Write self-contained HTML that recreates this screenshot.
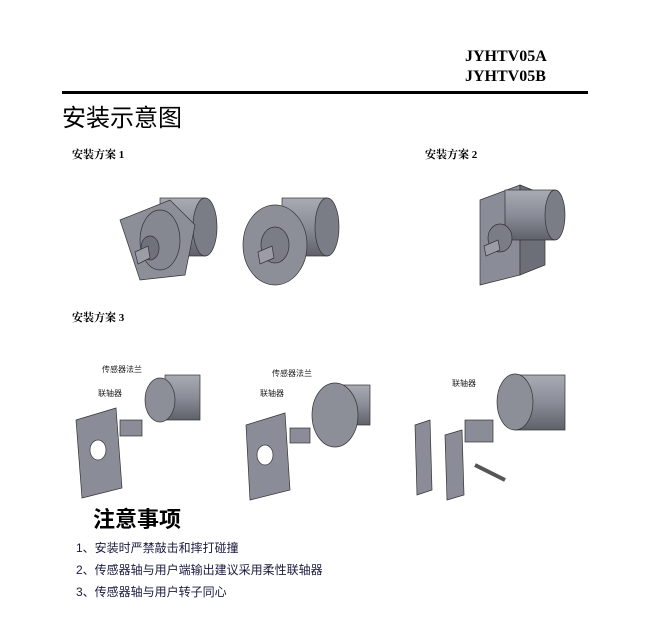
<!DOCTYPE html>
<html><head><meta charset="utf-8"><style>
body{margin:0;background:#fff;width:651px;height:626px;position:relative;overflow:hidden;font-family:"Liberation Serif","Noto Serif CJK SC",serif}
.a{position:absolute;white-space:nowrap}
</style></head><body>
<div class="a" style="left:465px;top:47px;font-size:16px;font-weight:bold;line-height:20px">JYHTV05A<br>JYHTV05B</div>
<div class="a" style="left:62px;top:91px;width:526px;height:3px;background:#000"></div>
<div class="a" style="left:62px;top:98px;font-size:24px;font-family:'Liberation Sans','Noto Sans CJK SC',sans-serif">安装示意图</div>
<div class="a" style="left:72px;top:146px;font-size:11px;font-weight:bold">安装方案 1</div>
<div class="a" style="left:425px;top:146px;font-size:11px;font-weight:bold">安装方案 2</div>
<div class="a" style="left:72px;top:309px;font-size:11px;font-weight:bold">安装方案 3</div>
<div class="a" style="left:93px;top:502px;font-size:22px;font-weight:bold;font-family:'Liberation Sans','Noto Sans CJK SC',sans-serif">注意事项</div>
<div class="a" style="left:76px;top:537px;font-size:12px;line-height:22px;color:#1a1a40;font-family:'Liberation Sans','Noto Sans CJK SC',sans-serif">1、安装时严禁敲击和摔打碰撞<br>2、传感器轴与用户端输出建议采用柔性联轴器<br>3、传感器轴与用户转子同心</div>
<svg class="a" style="left:0;top:0" width="651" height="626">
<defs><linearGradient id="g" x1="0" y1="0" x2="0" y2="1"><stop offset="0" stop-color="#a8abb4"/><stop offset="0.5" stop-color="#8a8d97"/><stop offset="1" stop-color="#5e616a"/></linearGradient></defs>
<g stroke="#333" stroke-width="0.7">
<!-- encoder 1 -->
<rect x="160" y="198" width="45" height="58" fill="url(#g)"/><ellipse cx="205" cy="227" rx="12" ry="29" fill="#7a7d86"/>
<path d="M120 220 L170 200 L195 225 L185 275 L140 280 Z" fill="#8c8f98"/>
<ellipse cx="160" cy="240" rx="20" ry="30" fill="#858891"/>
<ellipse cx="150" cy="248" rx="9" ry="12" fill="#6f727b"/>
<path d="M135 252 L148 246 L150 258 L138 264 Z" fill="#9a9da5"/>
<!-- encoder 2 -->
<rect x="282" y="198" width="45" height="58" fill="url(#g)"/><ellipse cx="327" cy="227" rx="12" ry="29" fill="#7a7d86"/>
<ellipse cx="275" cy="245" rx="32" ry="40" fill="#8c8f98"/>
<ellipse cx="275" cy="245" rx="14" ry="18" fill="#7a7d86"/>
<path d="M258 252 L272 246 L274 258 L260 264 Z" fill="#9a9da5"/>
<!-- encoder 3 box -->
<path d="M480 200 L520 185 L520 275 L480 285 Z" fill="#8a8d97"/>
<path d="M520 185 L545 195 L545 265 L520 275 Z" fill="#6c6f78"/>
<rect x="505" y="190" width="50" height="50" fill="url(#g)"/><ellipse cx="555" cy="215" rx="10" ry="25" fill="#7a7d86"/>
<ellipse cx="500" cy="238" rx="12" ry="14" fill="#7a7d86"/>
<path d="M484 246 L498 240 L500 250 L486 256 Z" fill="#9a9da5"/>
<!-- scheme 3 -->
<path d="M76 420 L116 408 L122 488 L82 498 Z" fill="#8a8d97"/>
<ellipse cx="98" cy="450" rx="8" ry="10" fill="#fff"/>
<rect x="120" y="420" width="22" height="16" fill="#8a8d97"/>
<rect x="165" y="375" width="35" height="45" fill="url(#g)"/>
<ellipse cx="160" cy="400" rx="15" ry="22" fill="#8c8f98"/>
<path d="M246 425 L285 413 L290 490 L250 500 Z" fill="#8a8d97"/>
<ellipse cx="265" cy="455" rx="8" ry="10" fill="#fff"/>
<rect x="290" y="428" width="20" height="15" fill="#8a8d97"/>
<rect x="335" y="385" width="35" height="40" fill="url(#g)"/>
<ellipse cx="335" cy="415" rx="23" ry="32" fill="#8c8f98"/>
<path d="M415 425 L430 420 L432 490 L417 495 Z" fill="#8a8d97"/>
<path d="M445 435 L462 430 L464 495 L447 500 Z" fill="#8a8d97"/>
<rect x="465" y="420" width="28" height="22" fill="#8a8d97"/>
<rect x="515" y="375" width="50" height="55" fill="url(#g)"/>
<ellipse cx="515" cy="402" rx="18" ry="28" fill="#8c8f98"/>
<path d="M475 465 L505 480" stroke="#555" stroke-width="4"/>
</g>
<g font-size="8" fill="#222" font-family="Liberation Sans,Noto Sans CJK SC,sans-serif">
<text x="102" y="372">传感器法兰</text><text x="98" y="396">联轴器</text>
<text x="272" y="376">传感器法兰</text><text x="260" y="396">联轴器</text>
<text x="452" y="386">联轴器</text></g>
</svg>
</body></html>
